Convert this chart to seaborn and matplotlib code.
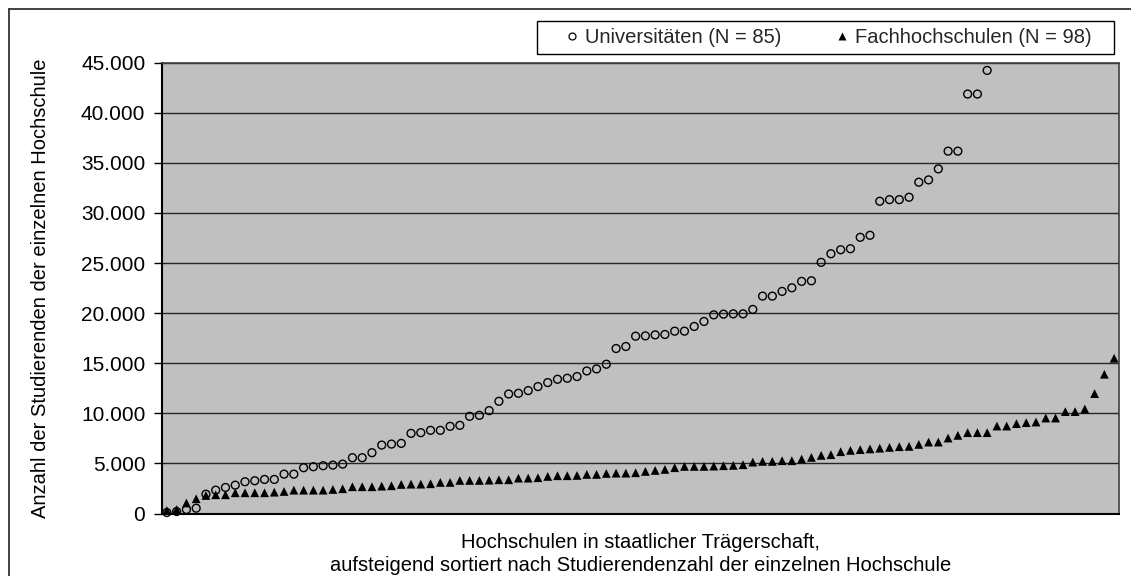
import matplotlib
matplotlib.use("Agg")
import matplotlib.pyplot as plt
import seaborn as sns
import pandas as pd
from matplotlib.ticker import FuncFormatter
from matplotlib.lines import Line2D
from matplotlib.patches import Rectangle

# ---- data ----
uni_label = "Universitäten (N = 85)"
fh_label = "Fachhochschulen (N = 98)"
uni_values = [100, 200, 400, 530, 1930, 2330, 2600, 2830, 3170, 3270, 3400, 3400,
              3930, 3930, 4570, 4670, 4770, 4830, 4930, 5570, 5570, 6070, 6830,
              6930, 7000, 8000, 8070, 8300, 8300, 8700, 8800, 9700, 9800, 10270,
              11200, 11930, 12000, 12270, 12670, 13070, 13400, 13500, 13670, 14230,
              14430, 14900, 16470, 16670, 17700, 17730, 17830, 17870, 18200, 18200,
              18670, 19170, 19830, 19900, 19930, 19930, 20370, 21700, 21700, 22170,
              22530, 23170, 23230, 25070, 25930, 26330, 26430, 27570, 27770, 31170,
              31330, 31330, 31570, 33070, 33300, 34400, 36170, 36170, 41870, 41870,
              44230]
fh_values = [300, 400, 1050, 1470, 1800, 1870, 1870, 2070, 2070, 2070, 2070, 2130,
             2200, 2330, 2330, 2330, 2330, 2400, 2470, 2670, 2670, 2670, 2730,
             2770, 2900, 2930, 2930, 2970, 3100, 3100, 3300, 3300, 3300, 3330, 3370,
             3370, 3530, 3530, 3570, 3700, 3770, 3770, 3800, 3900, 3900, 4000, 4030,
             4030, 4070,
             4200, 4300, 4400, 4570, 4700, 4700, 4700, 4730, 4770, 4800, 4870, 5130,
             5200, 5200, 5270, 5270, 5430, 5600, 5800, 5870, 6170, 6300,
             6380, 6450, 6520, 6600, 6670, 6700, 6900, 7130, 7130, 7530, 7800, 8070,
             8070, 8070, 8730, 8730, 8970, 9070, 9130, 9530, 9530, 10170, 10170,
             10430, 11970, 13900, 15500]
y_ticks = [0, 5000, 10000, 15000, 20000, 25000, 30000, 35000, 40000, 45000]
y_label = "Anzahl der Studierenden der einzelnen Hochschule"
x_label = ("Hochschulen in staatlicher Trägerschaft,\n"
           "aufsteigend sortiert nach Studierendenzahl der einzelnen Hochschule")

uni_df = pd.DataFrame({"rank": range(1, len(uni_values) + 1), "value": uni_values})
fh_df = pd.DataFrame({"rank": range(1, len(fh_values) + 1), "value": fh_values})

sns.set_theme(style="white")
plt.rcParams["font.family"] = ["Liberation Sans", "DejaVu Sans"]
FS_TICK = 15
FS = 14.5

W, H = 1131, 576
fig = plt.figure(figsize=(W / 100, H / 100), dpi=100)
ax = fig.add_axes([162 / W, 1 - 513.5 / H, (1119 - 162) / W, (513.5 - 62.7) / H])
ax.set_facecolor("#c0c0c0")

sns.scatterplot(data=uni_df, x="rank", y="value", ax=ax, marker="o", s=32,
                facecolors="none", edgecolor="black", linewidth=1.0,
                clip_on=False, zorder=3)
sns.scatterplot(data=fh_df, x="rank", y="value", ax=ax, marker="^", s=40,
                color="black", edgecolor="none", linewidth=0,
                clip_on=False, zorder=4)

ax.set_xlim(0.5, 98.5)
ax.set_ylim(0, 45000)
ax.set_yticks(y_ticks)
ax.yaxis.set_major_formatter(FuncFormatter(lambda v, p: f"{int(v):,}".replace(",", ".")))
ax.set_xticks([])
ax.grid(axis="y", color="#262626", linewidth=1.0)
ax.set_axisbelow(True)
ax.tick_params(axis="y", which="major", left=True, length=6, width=1.0,
               color="black", direction="out", labelsize=FS_TICK, pad=6,
               labelcolor="black")
for side in ["top", "right"]:
    ax.spines[side].set_color("#404040")
    ax.spines[side].set_linewidth(1.2)
for side in ["left", "bottom"]:
    ax.spines[side].set_color("black")
    ax.spines[side].set_linewidth(1.5)

ax.set_ylabel(y_label, fontsize=FS, color="black", labelpad=22)
ax.set_xlabel(x_label, fontsize=FS, color="black", labelpad=14, linespacing=1.25)

# legend box
fig.add_artist(Rectangle((537 / W, 1 - 54.3 / H), (1114 - 537) / W, (54.3 - 20.7) / H,
                         transform=fig.transFigure, facecolor="white",
                         edgecolor="black", linewidth=1.0, zorder=5))
handles = [
    Line2D([], [], linestyle="none", marker="o", markersize=5, markerfacecolor="none",
           markeredgecolor="black", markeredgewidth=0.9),
    Line2D([], [], linestyle="none", marker="^", markersize=6, markerfacecolor="black",
           markeredgecolor="none"),
]
leg = fig.legend(handles, [uni_label, fh_label], ncol=2, loc="center left",
                 bbox_to_anchor=(566 / W, 1 - 37.5 / H),
                 fontsize=FS, frameon=False, handlelength=0.6,
                 handletextpad=0.35, columnspacing=2.7, borderpad=0,
                 borderaxespad=0)
leg.set_zorder(6)

# outer frame (only left and top visible in the reference)
fig.add_artist(Line2D([8.5 / W, 8.5 / W], [0, 1 - 8.5 / H], color="#222222",
                      linewidth=1.2, transform=fig.transFigure))
fig.add_artist(Line2D([8.5 / W, 1], [1 - 8.5 / H, 1 - 8.5 / H], color="#222222",
                      linewidth=1.2, transform=fig.transFigure))

fig.savefig("out.png", dpi=100)
